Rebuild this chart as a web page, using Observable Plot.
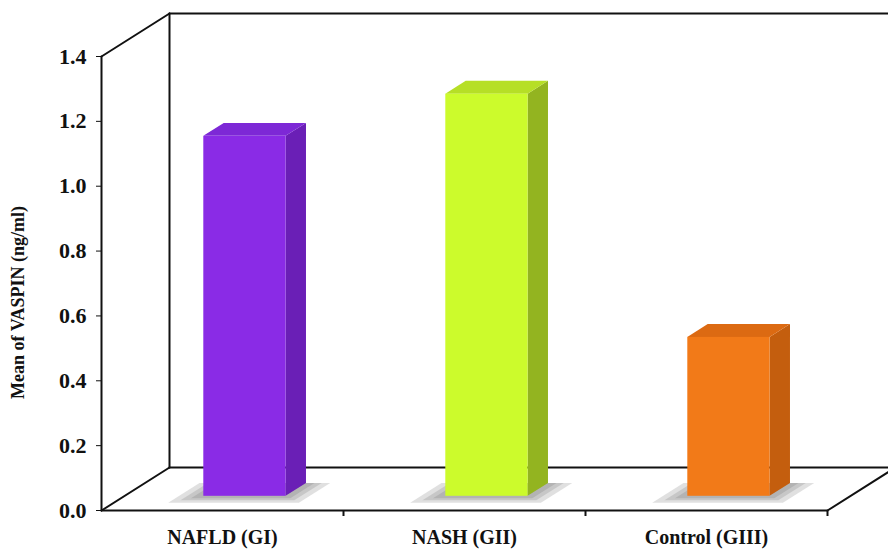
<!DOCTYPE html>
<html><head><meta charset="utf-8">
<script src="https://cdn.jsdelivr.net/npm/d3@7"></script>
<script src="https://cdn.jsdelivr.net/npm/@observablehq/plot@0.6"></script>
<style>
html,body{margin:0;padding:0;background:#fff;overflow:hidden}
#chart svg g[aria-label^="y-axis"] text{font-size:22px !important;}
</style>
</head><body><div id="chart"></div>
<script>
const categories = ["NAFLD (GI)", "NASH (GII)", "Control (GIII)"];
const values = [1.11, 1.24, 0.49];
const yTicks = [0, 0.2, 0.4, 0.6, 0.8, 1.0, 1.2, 1.4];
const catTicks = [1, 2, 3];
const frontColors = ["#8a2be6", "#ccfb2c", "#f27a18"];
const sideColors = ["#6a1fb6", "#93b420", "#c45e0e"];
const topColors = ["#7d28d6", "#b6df26", "#dc6a12"];
const yLabel = "Mean of VASPIN (ng/ml)";

// oblique 3D projection (depth w in [0,1])
const KX = 0.281, KY = 0.1326;
const W0 = 0.33, W1 = 0.63, HALF = 0.17;
const P = (u, v, w) => ({x: u + w * KX, y: v + w * KY});
const vMax = yTicks[yTicks.length - 1], uMax = categories.length;

const bars = categories.map((c, i) => ({c, i, v: values[i], uL: i + 0.5 - HALF, uR: i + 0.5 + HALF}));
const frontFaces = bars.map(b => ({...b, x1: b.uL + W0 * KX, x2: b.uR + W0 * KX, y1: W0 * KY, y2: b.v + W0 * KY}));
const sideFaces = bars.flatMap(b => [W0, W1].map(w => ({...b, x: b.uR + w * KX, y1: w * KY, y2: b.v + w * KY})));
const topFaces = bars.flatMap(b => [W0, W1].map(w => ({...b, y: b.v + w * KY, x1: b.uL + w * KX, x2: b.uR + w * KX})));
// soft base shadows: a few stacked translucent floor patches of decreasing size
const shadowSpread = [0.1, 0.065, 0.035];
const shadows = shadowSpread.flatMap((s, k) => bars.flatMap(b => [W0 - 1.6 * s, W1].map(w => ({...b, k: `${b.c}-${k}`, y: w * KY, x1: b.uL - s + w * KX, x2: b.uR + s + w * KX}))));

const edges = [
  [[0, 0, 0], [0, vMax, 0]],
  [[0, vMax, 0], [0, vMax, 1]],
  [[0, 0, 0], [0, 0, 1]],
  [[0, 0, 1], [0, vMax, 1]],
  [[0, vMax, 1], [uMax, vMax, 1]],
  [[0, 0, 1], [uMax, 0, 1]],
  [[0, 0, 0], [uMax, 0, 0]],
  [[uMax, 0, 0], [uMax, 0, 1]]
];
const edgePts = edges.flatMap((e, k) => e.map(p => ({k, ...P(...p)})));

const chart = Plot.plot({
  width: 888,
  height: 549,
  marginLeft: 101,
  marginRight: 61,
  marginTop: 56,
  marginBottom: 39,
  style: {fontFamily: "'Liberation Serif', 'Times New Roman', serif", fontSize: "21px", fontWeight: "bold", color: "#111", background: "#fff"},
  x: {domain: [0, uMax], axis: null},
  y: {domain: [0, vMax], ticks: yTicks, tickFormat: d => d.toFixed(1), tickSize: 5, tickPadding: 10, label: null},
  marks: [
    Plot.line(edgePts, {x: "x", y: "y", z: "k", stroke: "#111", strokeWidth: 2}),
    Plot.ruleX(catTicks, {x: d => d, y1: 0, y2: 0, insetBottom: -6, stroke: "#111", strokeWidth: 2}),
    Plot.areaX(shadows, {y: "y", x1: "x1", x2: "x2", z: "k", fill: "#666", fillOpacity: 0.2}),
    Plot.areaY(sideFaces, {x: "x", y1: "y1", y2: "y2", z: "c", fill: d => sideColors[d.i]}),
    Plot.areaX(topFaces, {y: "y", x1: "x1", x2: "x2", z: "c", fill: d => topColors[d.i]}),
    Plot.rect(frontFaces, {x1: "x1", x2: "x2", y1: "y1", y2: "y2", fill: d => frontColors[d.i]}),
    Plot.text(categories, {x: (d, i) => i + 0.5, y: 0, dy: 27, text: d => d, fontSize: 20, fontWeight: "bold", fill: "#111"}),
    Plot.text([yLabel], {frameAnchor: "left", dx: -83, dy: 19, rotate: -90, textAnchor: "middle", text: d => d, fontSize: 18, fontWeight: "bold", fill: "#111"})
  ]
});
document.getElementById("chart").appendChild(chart);
</script>
</body></html>
